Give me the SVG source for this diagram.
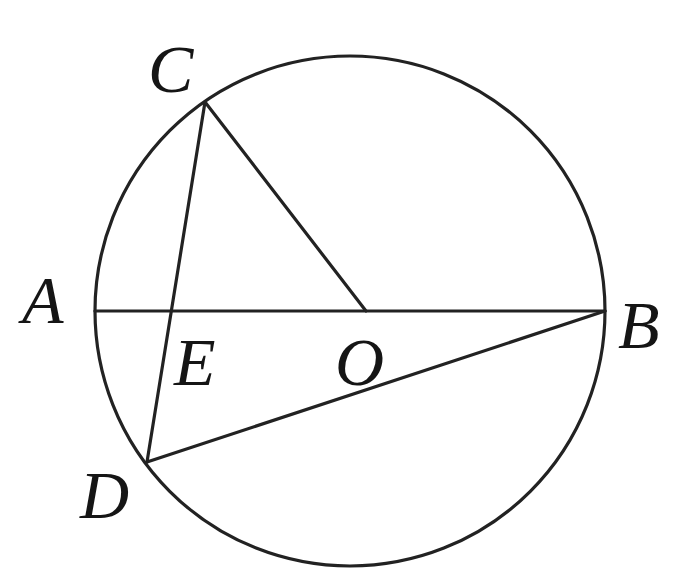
<svg xmlns="http://www.w3.org/2000/svg" width="675" height="572" viewBox="0 0 675 572">
<style>
.ln{stroke:#222;stroke-width:3.2;fill:none;stroke-linecap:round}
.lb{font-family:"Liberation Serif","Times New Roman",serif;font-style:italic;font-size:68px;fill:#151515}
</style>
<rect width="675" height="572" fill="#fff"/>
<g id="circle"><circle class="ln" cx="350" cy="311" r="255"/></g>
<g id="connectors">
<line class="ln" x1="95" y1="311" x2="605" y2="311"/>
<line class="ln" x1="205" y1="102" x2="147" y2="462"/>
<line class="ln" x1="205" y1="102" x2="366" y2="311"/>
<line class="ln" x1="147" y1="462" x2="605" y2="311"/>
</g>
<g id="C"><text class="lb" x="148" y="92">C</text></g>
<g id="A"><text class="lb" x="22" y="323">A</text></g>
<g id="E"><text class="lb" x="174" y="385">E</text></g>
<g id="O"><text class="lb" x="335" y="385">O</text></g>
<g id="B"><text class="lb" x="618" y="348">B</text></g>
<g id="D"><text class="lb" x="80" y="518">D</text></g>
</svg>
